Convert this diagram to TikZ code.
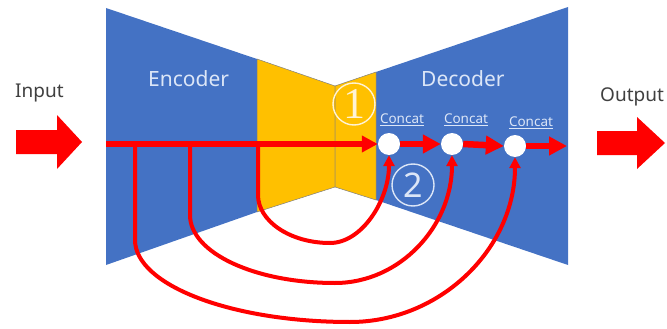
\documentclass[tikz,border=0pt]{standalone}
\usepackage{fontspec}
\setmainfont{Noto Sans}
\newfontfamily\serifnum{Liberation Serif}
\usetikzlibrary{arrows.meta}
\definecolor{ublue}{HTML}{4472C4}
\definecolor{uyellow}{HTML}{FFC000}
\definecolor{ured}{HTML}{FF0000}
\definecolor{ulight}{HTML}{DCE6F7}
\definecolor{utext}{HTML}{404040}
\definecolor{ucream}{HTML}{FFF3D6}
\tikzset{
  blueface/.style={fill=ublue},
  yellowface/.style={fill=uyellow, draw=black!50, line width=0.5pt, line join=round},
  bigarrow/.style={fill=ured},
  mainline/.style={draw=ured, line width=6.5pt, -{Triangle[length=16pt,width=16pt]}},
  steparrow/.style={draw=ured, line width=6.5pt, -{Triangle[length=18pt,width=18pt]}},
  skipline/.style={draw=ured, line width=4pt, line join=round, -{Triangle[length=11pt,width=11pt]}},
  concat/.style={circle, fill=white, minimum size=22pt, inner sep=0pt},
  clabel/.style={text=ulight, font=\fontsize{13.5}{15}\selectfont, inner sep=0pt},
  sidelabel/.style={text=utext, font=\fontsize{19}{22}\selectfont, inner sep=0pt, anchor=base west},
  partlabel/.style={text=ulight, font=\fontsize{21}{24}\selectfont, inner sep=0pt, anchor=base west},
  numcircle/.style={circle, line width=1.4pt, minimum size=42pt, inner sep=0pt},
}
\begin{document}
\begin{tikzpicture}[x=1pt,y=-1pt]
\useasboundingbox (0,0) rectangle (667,329);

% encoder / bottleneck / decoder
\path[blueface] (106,8) -- (257,59) -- (257,212) -- (106,265) -- cycle;
\path[blueface] (376,72) -- (568,7) -- (568,265) -- (376,200) -- cycle;
\path[yellowface] (257,59) -- (335,86) -- (335,187) -- (257,212) -- cycle;
\path[yellowface] (335,86) -- (376,72) -- (376,200) -- (335,187) -- cycle;

% big input / output arrows
\path[bigarrow] (16,130) -- (57,130) -- (57,115) -- (82,142) -- (57,169) -- (57,154) -- (16,154) -- cycle;
\path[bigarrow] (597,131) -- (637,131) -- (637,117) -- (665,143) -- (637,169) -- (637,155) -- (597,155) -- cycle;

% labels
\node[sidelabel] (inlbl) at (15,97) {Input};
\node[sidelabel] (outlbl) at (600,101) {Output};
\node[partlabel] (enc) at (148,86) {Encoder};
\node[partlabel] (dec) at (421,86) {Decoder};

% concat nodes
\node[concat] (c1) at (389,144) {};
\node[concat] (c2) at (452,144) {};
\node[concat] (c3) at (515,146) {};
\node[clabel] (l1) at (402,120) {\underline{Concat}};
\node[clabel] (l2) at (466,120) {\underline{Concat}};
\node[clabel] (l3) at (531,123) {\underline{Concat}};

% main flow
\coordinate (m0) at (106,144);
\coordinate (b1) at (135,144);
\coordinate (b2) at (190,144);
\coordinate (b3) at (258,144);
\coordinate (oend) at (567,146);

% skip connections
\draw[skipline] (b3) -- (258,195) .. controls (258,221) and (290,243) .. (330,243)
   .. controls (362,243) and (389,200) .. (c1.south);
\draw[skipline] (b2) -- (190,215) .. controls (190,253) and (255,283) .. (335,283)
   .. controls (400,283) and (452,226) .. (c2.south);
\draw[skipline] (b1) -- (135,240) .. controls (135,285) and (231,322) .. (350,322)
   .. controls (441,322) and (515,248) .. (c3.south);

\draw[mainline] (m0) -- (c1.west);
\draw[steparrow] (c1.east) -- (c2.west);
\draw[steparrow] (c2.east) -- (c3.west);
\draw[steparrow] (c3.east) -- (oend);

% circled numbers
\node[numcircle, draw=ucream, text=ucream, font=\serifnum\fontsize{44}{46}\selectfont] (n1) at (354,104) {1};
\node[numcircle, draw=ulight, text=ulight, font=\fontsize{34}{36}\selectfont] (n2) at (413,185) {2};
\end{tikzpicture}
\end{document}
